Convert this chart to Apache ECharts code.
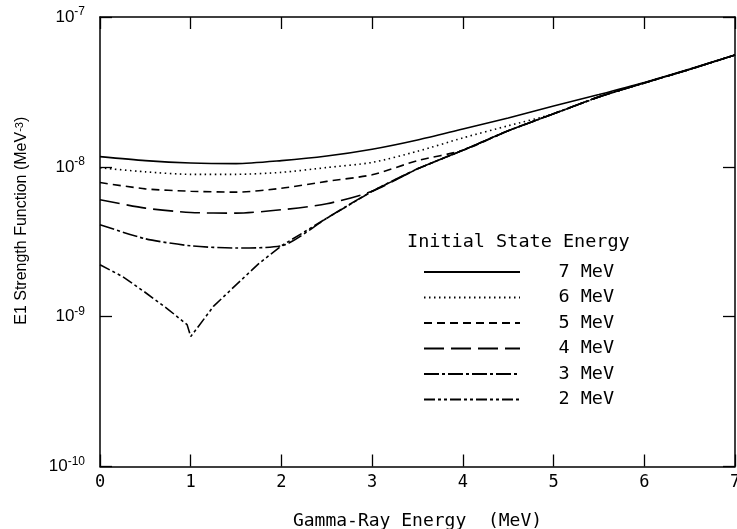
<!DOCTYPE html>
<html lang="en">
<head>
<meta charset="UTF-8">
<title>E1 Strength Function</title>
<script src="https://cdn.jsdelivr.net/npm/echarts@6/dist/echarts.min.js"></script>
<style>
  html, body { margin: 0; padding: 0; background: #fff; }
  #chart { width: 737px; height: 529px; }
</style>
</head>
<body>
<div id="chart"></div>
<script type="text/javascript">
// gamma-ray energy (MeV) and strength function (MeV^-3)
var x7 = [0, 0.5, 1, 1.5, 2, 2.5, 3, 3.5, 4, 4.5, 5, 5.5, 6, 6.5, 7];
var y7 = [1.17e-8, 1.10e-8, 1.06e-8, 1.05e-8, 1.10e-8, 1.18e-8, 1.31e-8, 1.51e-8, 1.79e-8, 2.12e-8, 2.55e-8, 3.04e-8, 3.66e-8, 4.50e-8, 5.58e-8];

var x6 = [0, 0.5, 1, 1.5, 2, 2.5, 3, 3.5, 4, 4.5, 5, 5.5, 6, 6.5, 7];
var y6 = [9.85e-9, 9.26e-9, 8.91e-9, 8.91e-9, 9.19e-9, 9.89e-9, 1.07e-8, 1.27e-8, 1.56e-8, 1.88e-8, 2.26e-8, 2.93e-8, 3.63e-8, 4.47e-8, 5.58e-8];

var x5 = [0, 0.5, 1, 1.5, 2, 2.5, 3, 3.5, 4, 4.5, 5, 5.5, 6, 6.5, 7];
var y5 = [7.86e-9, 7.13e-9, 6.87e-9, 6.78e-9, 7.19e-9, 8.00e-9, 8.85e-9, 1.10e-8, 1.29e-8, 1.74e-8, 2.26e-8, 2.93e-8, 3.63e-8, 4.47e-8, 5.58e-8];

var x4 = [0, 0.5, 1, 1.5, 2, 2.5, 3, 3.5, 4, 4.5, 5, 5.5, 6, 6.5, 7];
var y4 = [6.03e-9, 5.30e-9, 4.96e-9, 4.91e-9, 5.17e-9, 5.67e-9, 6.87e-9, 9.70e-9, 1.29e-8, 1.74e-8, 2.26e-8, 2.93e-8, 3.63e-8, 4.47e-8, 5.58e-8];

var x3 = [0, 0.5, 1, 1.5, 2, 2.5, 3, 3.5, 4, 4.5, 5, 5.5, 6, 6.5, 7];
var y3 = [4.11e-9, 3.31e-9, 2.97e-9, 2.87e-9, 2.97e-9, 4.54e-9, 6.87e-9, 9.70e-9, 1.29e-8, 1.74e-8, 2.26e-8, 2.93e-8, 3.63e-8, 4.47e-8, 5.58e-8];

var x2 = [0, 0.25, 0.5, 0.75, 0.96, 1, 1.25, 1.5, 1.75, 2, 2.5, 3, 3.5, 4, 4.5, 5, 5.5, 6, 6.5, 7];
var y2 = [2.22e-9, 1.85e-9, 1.45e-9, 1.12e-9, 8.85e-10, 7.36e-10, 1.17e-9, 1.63e-9, 2.26e-9, 2.97e-9, 4.54e-9, 6.87e-9, 9.70e-9, 1.29e-8, 1.74e-8, 2.26e-8, 2.93e-8, 3.63e-8, 4.47e-8, 5.58e-8];

var names = ['7 MeV', '6 MeV', '5 MeV', '4 MeV', '3 MeV', '2 MeV'];
var xsAll = [x7, x6, x5, x4, x3, x2];
var ysAll = [y7, y6, y5, y4, y3, y2];
var dashes = ['solid', [1.5, 3.5], [8, 5], [20, 7], [15, 3, 3, 3], [11, 3, 3, 3, 3, 3]];

var mono = 'DejaVu Sans Mono';
var sans = 'Liberation Sans';

function pairs(xs, ys) {
    var out = [];
    for (var i = 0; i < xs.length; i++) {
        out.push([xs[i], ys[i]]);
    }
    return out;
}

var series = [];
for (var k = 0; k < names.length; k++) {
    series.push({
        name: names[k],
        type: 'line',
        xAxisIndex: 0,
        yAxisIndex: 0,
        symbol: 'none',
        smooth: k === 5 ? false : 0.25,
        itemStyle: { color: '#000' },
        lineStyle: { color: '#000', width: 1.6, type: dashes[k] },
        data: pairs(xsAll[k], ysAll[k])
    });
}

var frameLine = { lineStyle: { color: '#000', width: 1.5 }, onZero: false };
var tickIn = { inside: true, length: 12, lineStyle: { color: '#000', width: 1.3 } };

var myChart = echarts.init(document.getElementById('chart'));
myChart.setOption({
    animation: false,
    backgroundColor: '#fff',
    grid: { left: 100, right: 2, top: 17, bottom: 62.5, outerBoundsMode: 'none' },
    title: {
        text: 'Initial State Energy',
        left: 407,
        top: 231,
        padding: 0,
        textStyle: { fontFamily: mono, fontSize: 18.5, fontWeight: 'normal', color: '#000', lineHeight: 22 }
    },
    legend: {
        orient: 'vertical',
        left: 423,
        top: 262,
        padding: 0,
        itemWidth: 96,
        itemHeight: 20,
        itemGap: 5.5,
        selectedMode: false,
        data: names,
        // hide the round marker ECharts puts in the middle of a line icon
        itemStyle: { color: 'rgba(0,0,0,0)', borderWidth: 0, opacity: 0 },
        formatter: function (n) { return '   ' + n; },
        textStyle: { fontFamily: mono, fontSize: 18.5, color: '#000', lineHeight: 20 }
    },
    xAxis: [{
        type: 'value',
        position: 'bottom',
        min: 0,
        max: 7,
        interval: 1,
        axisLine: frameLine,
        axisTick: tickIn,
        splitLine: { show: false },
        axisLabel: { fontFamily: mono, fontSize: 17, color: '#000', margin: 8 },
        name: 'Gamma-Ray Energy  (MeV)',
        nameLocation: 'middle',
        nameGap: 45.5,
        nameTextStyle: { fontFamily: mono, fontSize: 18, color: '#000' }
    }, {
        type: 'value',
        position: 'top',
        min: 0,
        max: 7,
        interval: 1,
        axisLine: frameLine,
        axisTick: tickIn,
        splitLine: { show: false },
        axisLabel: { show: false }
    }],
    yAxis: [{
        type: 'log',
        logBase: 10,
        position: 'left',
        min: 1e-10,
        max: 1e-7,
        splitNumber: 3,
        axisLine: frameLine,
        axisTick: tickIn,
        minorTick: { show: false },
        splitLine: { show: false },
        axisLabel: {
            margin: 15,
            formatter: function (v) {
                var e = Math.round(Math.log(v) / Math.LN10);
                return '{b|10}{s|' + e + '}';
            },
            rich: {
                b: { fontFamily: sans, fontSize: 17, color: '#000', lineHeight: 22 },
                s: { fontFamily: sans, fontSize: 12, color: '#000', lineHeight: 14, verticalAlign: 'top' }
            }
        },
        name: 'E1 Strength Function (MeV{s|-3})',
        nameLocation: 'middle',
        nameGap: 70,
        nameTextStyle: {
            fontFamily: sans,
            fontSize: 16,
            color: '#000',
            padding: [0, 0, 0, 42],
            rich: {
                s: { fontFamily: sans, fontSize: 11, color: '#000', lineHeight: 10, verticalAlign: 'top' }
            }
        }
    }, {
        type: 'log',
        logBase: 10,
        position: 'right',
        min: 1e-10,
        max: 1e-7,
        splitNumber: 3,
        axisLine: frameLine,
        axisTick: tickIn,
        splitLine: { show: false },
        axisLabel: { show: false }
    }],
    series: series
});
</script>
</body>
</html>
